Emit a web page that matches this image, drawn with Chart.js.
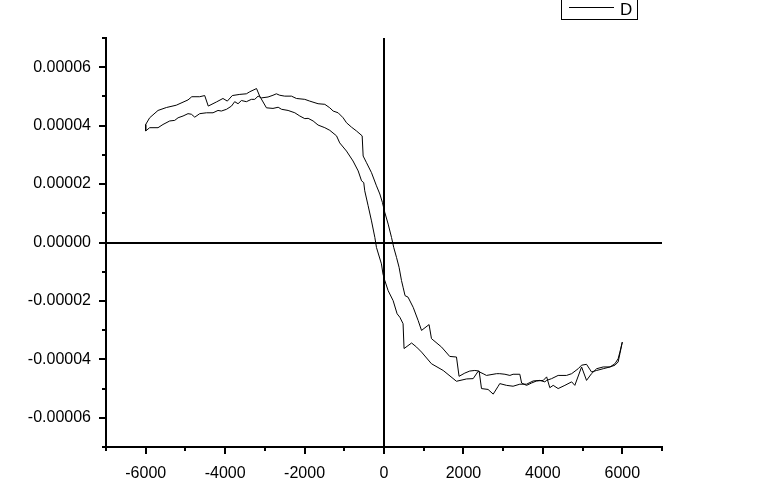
<!DOCTYPE html>
<html>
<head>
<meta charset="utf-8">
<title>D</title>
<script src="https://cdn.jsdelivr.net/npm/chart.js@4.4.1/dist/chart.umd.min.js"></script>
<style>
    html, body { margin: 0; padding: 0; background: #fff; }
    canvas { display: block; }
</style>
</head>
<body>
<canvas id="loopChart" width="759" height="491"></canvas>
<script>
// field sweep from +6000 down to -6000
const fieldDown = [6000, 5940, 5895, 5815, 5690, 5520, 5355, 5225, 5100, 4975, 4805, 4725, 4555, 4385, 4260, 4175,
    4095, 4010, 3840, 3715, 3590, 3465, 3420, 3250, 3170, 3045, 2915, 2835, 2580, 2495, 2370, 2245, 2080, 1825,
    1490, 1195, 945, 820, 695, 505, 480, 400, 330, 230, 105, 20, -25, -65, -190, -230, -315, -400, -485, -510,
    -565, -650, -780, -945, -1115, -1195, -1365, -1490, -1660, -1785, -1910, -1995, -2120, -2245, -2415, -2580,
    -2665, -2795, -2960, -3130, -3210, -3380, -3465, -3630, -3820, -3945, -4055, -4220, -4425, -4515, -4640,
    -4840, -4935, -5230, -5480, -5690, -5900, -6000];
const momentDown = [-3.41e-5, -3.75e-5, -3.98e-5, -4.15e-5, -4.26e-5, -4.26e-5, -4.32e-5, -4.49e-5, -4.72e-5,
    -4.26e-5, -4.89e-5, -4.77e-5, -4.89e-5, -5.00e-5, -4.89e-5, -4.97e-5, -4.60e-5, -4.72e-5, -4.74e-5, -4.81e-5,
    -4.89e-5, -4.81e-5, -4.51e-5, -4.51e-5, -4.55e-5, -4.51e-5, -4.49e-5, -4.49e-5, -4.55e-5, -4.49e-5, -4.41e-5,
    -4.66e-5, -4.67e-5, -4.75e-5, -4.38e-5, -4.15e-5, -3.75e-5, -3.58e-5, -3.44e-5, -3.63e-5, -2.78e-5, -2.56e-5,
    -2.44e-5, -1.99e-5, -1.65e-5, -1.30e-5, -1.08e-5, -0.73e-5, -0.17e-5, 0.17e-5, 0.74e-5, 1.26e-5, 1.77e-5,
    2.05e-5, 2.11e-5, 2.45e-5, 2.79e-5, 3.13e-5, 3.41e-5, 3.65e-5, 3.84e-5, 3.93e-5, 4.02e-5, 4.16e-5, 4.25e-5,
    4.24e-5, 4.33e-5, 4.44e-5, 4.52e-5, 4.56e-5, 4.63e-5, 4.59e-5, 4.61e-5, 5.01e-5, 5.27e-5, 5.16e-5, 5.09e-5,
    5.07e-5, 5.03e-5, 4.84e-5, 4.93e-5, 4.81e-5, 4.67e-5, 5.03e-5, 4.99e-5, 4.99e-5, 4.88e-5, 4.70e-5, 4.62e-5,
    4.52e-5, 4.27e-5, 4.04e-5];

// field sweep from -6000 back up to +6000
const fieldUp = [-6000, -5900, -5690, -5565, -5395, -5270, -5185, -5060, -4935, -4850, -4765, -4640, -4470, -4305,
    -4180, -4095, -3965, -3840, -3760, -3675, -3590, -3465, -3340, -3255, -3170, -3085, -2920, -2795, -2710, -2625,
    -2500, -2330, -2205, -1995, -1870, -1660, -1490, -1365, -1280, -1155, -1030, -945, -820, -695, -550, -525,
    -440, -315, -190, -105, -40, 20, 105, 190, 245, 315, 380, 440, 480, 530, 605, 735, 860, 945, 1135, 1195,
    1450, 1655, 1825, 1890, 2035, 2160, 2285, 2395, 2455, 2620, 2750, 2875, 2915, 3085, 3250, 3420, 3590, 3755,
    3925, 4050, 4095, 4220, 4385, 4595, 4725, 4890, 4975, 5100, 5225, 5355, 5520, 5690, 5815, 5895, 5940, 6000];
const momentUp = [3.82e-5, 3.93e-5, 3.93e-5, 4.04e-5, 4.16e-5, 4.18e-5, 4.27e-5, 4.33e-5, 4.41e-5, 4.39e-5,
    4.29e-5, 4.41e-5, 4.44e-5, 4.44e-5, 4.52e-5, 4.50e-5, 4.56e-5, 4.67e-5, 4.82e-5, 4.75e-5, 4.86e-5, 4.82e-5,
    4.90e-5, 4.90e-5, 5.01e-5, 4.95e-5, 4.98e-5, 5.04e-5, 5.09e-5, 5.04e-5, 5.01e-5, 5.01e-5, 4.93e-5, 4.90e-5,
    4.84e-5, 4.75e-5, 4.73e-5, 4.61e-5, 4.50e-5, 4.44e-5, 4.27e-5, 4.10e-5, 3.95e-5, 3.82e-5, 3.65e-5, 2.96e-5,
    2.73e-5, 2.39e-5, 1.94e-5, 1.66e-5, 1.37e-5, 1.03e-5, 0.63e-5, 0.17e-5, -0.17e-5, -0.51e-5, -0.85e-5,
    -1.30e-5, -1.53e-5, -1.82e-5, -1.87e-5, -2.22e-5, -2.67e-5, -3.01e-5, -2.81e-5, -3.29e-5, -3.58e-5, -3.90e-5,
    -3.92e-5, -4.58e-5, -4.47e-5, -4.40e-5, -4.38e-5, -4.40e-5, -5.00e-5, -5.03e-5, -5.19e-5, -4.92e-5, -4.83e-5,
    -4.89e-5, -4.92e-5, -4.85e-5, -4.85e-5, -4.74e-5, -4.72e-5, -4.77e-5, -4.72e-5, -4.66e-5, -4.55e-5, -4.55e-5,
    -4.49e-5, -4.32e-5, -4.20e-5, -4.17e-5, -4.43e-5, -4.38e-5, -4.32e-5, -4.26e-5, -4.20e-5, -4.09e-5, -3.81e-5,
    -3.41e-5];

const xTickLabels = ['-6000', '-4000', '-2000', '0', '2000', '4000', '6000'];
const yTickLabels = ['-0.00006', '-0.00004', '-0.00002', '0.00000', '0.00002', '0.00004', '0.00006'];
const seriesName = 'D';

document.addEventListener('DOMContentLoaded', function () {
    const canvas = document.getElementById('loopChart');

    // one closed loop: down sweep then up sweep
    const loopPoints = fieldDown.map((f, i) => ({ x: f, y: momentDown[i] }))
        .concat(fieldUp.map((f, i) => ({ x: f, y: momentUp[i] })));

    // Origin style ticks (long major, short minor, outside) plus the framed legend
    const originStyle = {
        id: 'originStyle',
        afterDraw(chart) {
            const ctx = chart.ctx;
            const xs = chart.scales.x;
            const ys = chart.scales.y;
            const area = chart.chartArea;
            ctx.save();
            ctx.strokeStyle = '#000';
            ctx.lineWidth = 2;
            ctx.beginPath();
            xs.ticks.forEach(t => {
                const px = Math.round(xs.getPixelForValue(t.value));
                const len = Math.round(t.value / 1000) % 2 === 0 ? 7 : 4;
                ctx.moveTo(px, area.bottom);
                ctx.lineTo(px, area.bottom + len);
            });
            ys.ticks.forEach(t => {
                const py = Math.round(ys.getPixelForValue(t.value));
                const len = Math.round(t.value * 1e5) % 2 === 0 ? 7 : 4;
                ctx.moveTo(area.left - len, py);
                ctx.lineTo(area.left, py);
            });
            ctx.stroke();

            // legend box at the top right
            const ds = chart.data.datasets[0];
            ctx.lineWidth = 1;
            ctx.strokeRect(561.5, -1.5, 76, 21);
            ctx.strokeStyle = ds.borderColor;
            ctx.beginPath();
            ctx.moveTo(569, 7.5);
            ctx.lineTo(614, 7.5);
            ctx.stroke();
            ctx.fillStyle = '#000';
            ctx.font = '17px "Liberation Sans", Arial, sans-serif';
            ctx.textBaseline = 'alphabetic';
            ctx.fillText(ds.label, 620, 15);
            ctx.restore();
        }
    };

    new Chart(canvas, {
        type: 'scatter',
        data: {
            datasets: [{
                label: seriesName,
                data: loopPoints,
                showLine: true,
                borderColor: '#000',
                borderWidth: 1,
                pointRadius: 0,
                tension: 0
            }]
        },
        options: {
            responsive: false,
            animation: false,
            layout: {
                padding: { left: 0, right: 97, top: 38, bottom: 0 }
            },
            plugins: {
                legend: { display: false },
                tooltip: { enabled: false }
            },
            scales: {
                x: {
                    type: 'linear',
                    min: -7000,
                    max: 7000,
                    afterFit: scale => { scale.height = 44; },
                    border: { display: true, color: '#000', width: 2 },
                    grid: {
                        drawTicks: false,
                        lineWidth: 2,
                        color: ctx => (ctx.tick && ctx.tick.value === 0) ? '#000' : 'rgba(0,0,0,0)'
                    },
                    ticks: {
                        stepSize: 1000,
                        autoSkip: false,
                        maxRotation: 0,
                        minRotation: 0,
                        padding: 17,
                        color: '#000',
                        font: { family: '"Liberation Sans", Arial, sans-serif', size: 16 },
                        callback: value => {
                            const label = String(value);
                            return xTickLabels.includes(label) ? label : '';
                        }
                    }
                },
                y: {
                    type: 'linear',
                    min: -0.00007,
                    max: 0.00007,
                    afterFit: scale => { scale.width = 106; },
                    border: { display: true, color: '#000', width: 2 },
                    grid: {
                        drawTicks: false,
                        lineWidth: 2,
                        color: ctx => (ctx.tick && Math.abs(ctx.tick.value) < 1e-9) ? '#000' : 'rgba(0,0,0,0)'
                    },
                    ticks: {
                        stepSize: 0.00001,
                        autoSkip: false,
                        padding: 15,
                        color: '#000',
                        font: { family: '"Liberation Sans", Arial, sans-serif', size: 16 },
                        callback: value => {
                            const k = Math.round(value * 1e5);
                            const label = k === 0 ? '0.00000' : (k * 1e-5).toFixed(5);
                            return yTickLabels.includes(label) ? label : '';
                        }
                    }
                }
            }
        },
        plugins: [originStyle]
    });
});
</script>
</body>
</html>
